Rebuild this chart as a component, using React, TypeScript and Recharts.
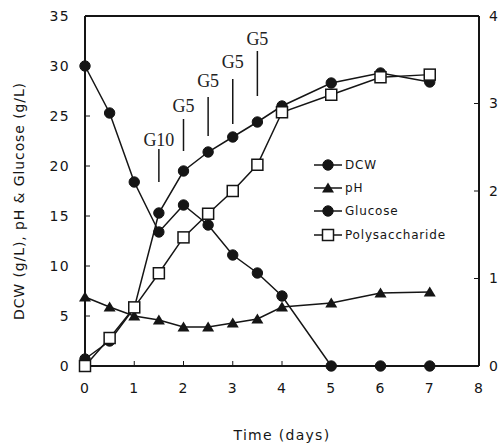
import React from 'react';
import {
  LineChart, Line, XAxis, YAxis, ReferenceLine, ReferenceDot, Legend, Label,
} from 'recharts';

// sampling times (days)
const days = [0, 0.5, 1, 1.5, 2, 2.5, 3, 3.5, 4, 5, 6, 7];

// left axis series (g/L, pH)
const dcw = [0.7, 2.5, 5.8, 15.3, 19.5, 21.4, 22.9, 24.4, 26.0, 28.3, 29.3, 28.4];
const ph = [6.9, 5.9, 5.0, 4.6, 3.9, 3.9, 4.3, 4.7, 5.9, 6.3, 7.3, 7.4];
const glucose = [30, 25.3, 18.4, 13.4, 16.1, 14.1, 11.1, 9.3, 7.0, 0, 0, 0];

// right axis series
const polysaccharide = [0, 0.32, 0.67, 1.06, 1.47, 1.74, 2.0, 2.3, 2.9, 3.1, 3.3, 3.33];

const xTicks = [0, 1, 2, 3, 4, 5, 6, 7, 8];
const leftTicks = [0, 5, 10, 15, 20, 25, 30, 35];
const rightTicks = [0, 1, 2, 3, 4];

// glucose feeding marks
const feedDays = [1.5, 2, 2.5, 3, 3.5];
const feedNames = ['G10', 'G5', 'G5', 'G5', 'G5'];
const feedLow = [18.4, 21.5, 23.0, 24.2, 27.0];
const feedHigh = [21.7, 24.7, 26.9, 28.7, 31.5];
const feedText = [22.6, 26.0, 28.5, 30.4, 32.7];

const legendOrder = ['DCW', 'pH', 'Glucose', 'Polysaccharide'];

const data = days.map((d, i) => ({
  day: d,
  dcw: dcw[i],
  ph: ph[i],
  glucose: glucose[i],
  poly: polysaccharide[i],
}));

const INK = '#151515';
const sans = 'DejaVu Sans, sans-serif';
const tickFont = { fontFamily: sans, fontSize: 14, fill: INK, letterSpacing: 1.3 };

const Circle = (p: any) => (
  <circle key={p.index} cx={p.cx} cy={p.cy} r={5.2} fill={INK} stroke={INK} strokeWidth={1} />
);
const Triangle = (p: any) => (
  <polygon
    key={p.index}
    points={`${p.cx},${p.cy - 5.5} ${p.cx - 6},${p.cy + 4.5} ${p.cx + 6},${p.cy + 4.5}`}
    fill={INK}
  />
);
const Square = (p: any) => (
  <rect key={p.index} x={p.cx - 5.5} y={p.cy - 5.5} width={11} height={11} fill="#fff" stroke={INK} strokeWidth={1.5} />
);

const markerFor: Record<string, (p: any) => React.ReactElement> = {
  DCW: Circle,
  pH: Triangle,
  Glucose: Circle,
  Polysaccharide: Square,
};

const renderLegend = () => (
  <div style={{ fontFamily: sans, fontSize: 12, color: INK, letterSpacing: 0.8 }}>
    {legendOrder.map((name) => {
      const M = markerFor[name];
      return (
        <div key={name} style={{ display: 'flex', alignItems: 'center', height: 23.3 }}>
          <svg width={30} height={14}>
            <line x1={1} y1={7} x2={29} y2={7} stroke={INK} strokeWidth={1.5} />
            <M cx={15} cy={7} index={0} />
          </svg>
          <span style={{ marginLeft: 2 }}>{name}</span>
        </div>
      );
    })}
  </div>
);

const FeedLabel = (props: any) => {
  const { viewBox, value } = props;
  return (
    <text
      x={viewBox.x + viewBox.width / 2}
      y={viewBox.y + viewBox.height / 2}
      textAnchor="middle"
      dominantBaseline="central"
      fontFamily="Liberation Serif, serif"
      fontSize={18}
      fill="#222"
    >
      {value}
    </text>
  );
};

const YTitle = (props: any) => {
  const { viewBox } = props;
  const cx = 19;
  const cy = viewBox.y + viewBox.height / 2 + 10;
  return (
    <text
      x={cx}
      y={cy}
      transform={`rotate(-90 ${cx} ${cy})`}
      textAnchor="middle"
      dominantBaseline="central"
      fontFamily={sans}
      fontSize={14}
      letterSpacing={0.9}
      fill={INK}
    >
      DCW (g/L), pH &amp; Glucose (g/L)
    </text>
  );
};

export default function App() {
  return (
    <div style={{ position: 'absolute', left: 0, top: 0, width: 501, height: 446, background: '#fff' }}>
      <LineChart width={501} height={446} data={data} margin={{ top: 16, right: 0, bottom: 0, left: 0 }}>
        <XAxis
          dataKey="day"
          type="number"
          domain={[0, 8]}
          ticks={xTicks}
          height={80}
          tickSize={-5}
          tickMargin={22}
          tick={tickFont}
          axisLine={{ stroke: INK, strokeWidth: 2 }}
          tickLine={{ stroke: INK, strokeWidth: 1 }}
        >
          <Label
            value="Time (days)"
            position="insideBottom"
            offset={6}
            style={{ fontFamily: sans, fontSize: 14, fill: INK, letterSpacing: 1.3 }}
          />
        </XAxis>
        <YAxis
          yAxisId="left"
          domain={[0, 35]}
          ticks={leftTicks}
          width={85}
          tickSize={-5}
          tickMargin={20}
          tick={tickFont}
          axisLine={{ stroke: INK, strokeWidth: 2 }}
          tickLine={{ stroke: INK, strokeWidth: 1 }}
          label={<YTitle />}
        />
        <YAxis
          yAxisId="right"
          orientation="right"
          domain={[0, 4]}
          ticks={rightTicks}
          width={22}
          tickSize={-5}
          tickMargin={15}
          tick={tickFont}
          axisLine={{ stroke: INK, strokeWidth: 2 }}
          tickLine={{ stroke: INK, strokeWidth: 1 }}
        />
        <ReferenceLine yAxisId="left" y={35} stroke={INK} strokeWidth={2} />

        {feedDays.map((d, i) => (
          <ReferenceLine
            key={`fl${i}`}
            yAxisId="left"
            segment={[{ x: d, y: feedLow[i] }, { x: d, y: feedHigh[i] }]}
            stroke={INK}
            strokeWidth={1.5}
          />
        ))}
        {feedDays.map((d, i) => (
          <ReferenceDot
            key={`ft${i}`}
            yAxisId="left"
            x={d}
            y={feedText[i]}
            r={0}
            stroke="none"
            label={<FeedLabel value={feedNames[i]} />}
          />
        ))}

        <Line yAxisId="left" dataKey="ph" name="pH" stroke={INK} strokeWidth={1.5} dot={Triangle} isAnimationActive={false} />
        <Line yAxisId="left" dataKey="glucose" name="Glucose" stroke={INK} strokeWidth={1.5} dot={Circle} isAnimationActive={false} />
        <Line yAxisId="left" dataKey="dcw" name="DCW" stroke={INK} strokeWidth={1.5} dot={Circle} isAnimationActive={false} />
        <Line yAxisId="right" dataKey="poly" name="Polysaccharide" stroke={INK} strokeWidth={1.5} dot={Square} isAnimationActive={false} />

        <Legend
          layout="vertical"
          align="center"
          verticalAlign="middle"
          content={renderLegend}
          wrapperStyle={{ left: 313, top: 153, width: 160 }}
        />
      </LineChart>
    </div>
  );
}
